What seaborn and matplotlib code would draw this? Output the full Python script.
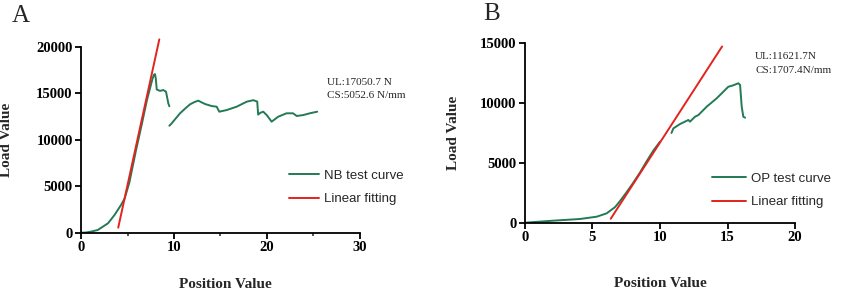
import pandas as pd
import seaborn as sns
import matplotlib.pyplot as plt
from matplotlib.ticker import MultipleLocator

# Panel A - NB test curve (two pieces, break after the first drop)
nb_x1 = [0, 0.5, 1.0, 1.8, 2.9, 3.6, 4.3, 4.7, 5.2, 5.9, 6.5, 7.1, 7.7, 7.85, 7.96, 8.05, 8.14, 8.5, 8.85, 9.14, 9.39, 9.5]
nb_y1 = [0, 20, 100, 290, 1010, 1900, 2980, 3700, 5400, 8800, 11500, 14300, 16600, 17000, 17050, 16500, 15400, 15250, 15340, 15160, 13900, 13600]
nb_x2 = [9.5, 9.75, 10.2, 10.65, 11.2, 11.72, 12.2, 12.61, 13.0, 13.33, 14.05, 14.59, 14.87, 15.67, 16.74, 17.82,
         18.53, 18.95, 19.05, 19.3, 19.6, 19.97, 20.5, 21.2, 22.1, 22.8, 23.2, 23.9, 24.6, 25.4]
nb_y2 = [11500, 11760, 12300, 12840, 13350, 13800, 14050, 14200, 14000, 13840, 13620, 13550, 13010, 13190, 13550, 14090,
         14250, 14100, 12700, 12900, 13010, 12650, 11940, 12470, 12840, 12840, 12550, 12650, 12840, 13010]
fit_a_x = [4.0, 8.42]
fit_a_y = [540, 20790]

# Panel B - OP test curve
op_x1 = [0, 2.1, 4.07, 5.31, 6.05, 6.67, 7.0, 7.5, 8.0, 8.5, 9.0, 9.5, 9.8, 10.0]
op_y1 = [0, 170, 310, 500, 780, 1300, 1750, 2500, 3300, 4150, 5100, 6000, 6450, 6750]
op_x2 = [10.85, 10.99, 11.48, 12.1, 12.22, 12.59, 12.84, 13.46, 14.2, 15.06, 15.43, 15.8, 15.93, 16.05, 16.17, 16.3]
op_y2 = [7480, 7860, 8220, 8560, 8420, 8830, 8970, 9670, 10370, 11330, 11450, 11620, 11480, 9670, 8830, 8750]
fit_b_x = [6.35, 14.6]
fit_b_y = [330, 14690]

GREEN = '#237a55'
RED = '#e3231d'
SERIF = 'Liberation Serif'
SANS = 'Liberation Sans'

sns.set_style('ticks')
plt.rcParams['font.family'] = [SERIF, 'DejaVu Serif']

fig = plt.figure(figsize=(8.44, 2.93), dpi=100)
ax_a = fig.add_axes([0.096, 0.2058, 0.3305, 0.6348])
ax_b = fig.add_axes([0.622, 0.2399, 0.320, 0.6144])


def draw_panel(ax, segs, fit_x, fit_y, curve_label, xmax, ymax):
    for i, (sx, sy) in enumerate(segs):
        df = pd.DataFrame({'x': sx, 'y': sy})
        sns.lineplot(data=df, x='x', y='y', ax=ax, sort=False, estimator=None,
                     color=GREEN, linewidth=1.4, label=curve_label if i == 0 else None)
    fit = pd.DataFrame({'x': fit_x, 'y': fit_y})
    sns.lineplot(data=fit, x='x', y='y', ax=ax, sort=False, estimator=None,
                 color=RED, linewidth=1.4, label='Linear fitting')
    ax.lines[-1].set_clip_on(False)
    ax.set_xlim(0, xmax)
    ax.set_ylim(0, ymax)
    sns.despine(ax=ax)
    for s in ['left', 'bottom']:
        ax.spines[s].set_linewidth(1.3)
        ax.spines[s].set_color('black')
    ax.tick_params(axis='both', which='major', length=4, width=1.3, labelsize=10.5, pad=2, colors='black')
    ax.tick_params(axis='both', which='minor', length=2.5, width=1.1)
    ax.set_xlabel('Position Value', fontsize=11, fontweight='bold')
    ax.set_ylabel('Load Value', fontsize=11, fontweight='bold')


draw_panel(ax_a, [(nb_x1, nb_y1), (nb_x2, nb_y2)], fit_a_x, fit_a_y, 'NB test curve', 30, 20000)
ax_a.xaxis.set_major_locator(MultipleLocator(10))
ax_a.xaxis.set_minor_locator(MultipleLocator(5))
ax_a.yaxis.set_major_locator(MultipleLocator(5000))

draw_panel(ax_b, [(op_x1, op_y1), (op_x2, op_y2)], fit_b_x, fit_b_y, 'OP test curve', 20, 15000)
ax_b.xaxis.set_major_locator(MultipleLocator(5))
ax_b.yaxis.set_major_locator(MultipleLocator(5000))

for ax in (ax_a, ax_b):
    for lab in ax.get_xticklabels() + ax.get_yticklabels():
        lab.set_fontweight('bold')

ax_a.xaxis.set_label_coords(0.516, -0.244)
ax_a.yaxis.set_label_coords(-0.244, 0.498)
ax_b.xaxis.set_label_coords(0.5, -0.30)
ax_b.yaxis.set_label_coords(-0.241, 0.50)

ax_a.legend(loc='center left', bbox_to_anchor=(0.722, 0.243), frameon=False,
            borderpad=0, handlelength=2.3, handletextpad=0.35, labelspacing=0.85,
            prop={'family': SANS, 'size': 9.5})
ax_b.legend(loc='center left', bbox_to_anchor=(0.667, 0.18), frameon=False,
            borderpad=0, handlelength=2.6, handletextpad=0.4, labelspacing=0.85,
            prop={'family': SANS, 'size': 9.5})

ax_a.text(0.882, 0.81, 'UL:17050.7 N', transform=ax_a.transAxes, va='center', ha='left', fontsize=8)
ax_a.text(0.882, 0.735, 'CS:5052.6 N/mm', transform=ax_a.transAxes, va='center', ha='left', fontsize=8)
ax_b.text(0.852, 0.926, 'UL:11621.7N', transform=ax_b.transAxes, va='center', ha='left', fontsize=8)
ax_b.text(0.852, 0.843, 'CS:1707.4N/mm', transform=ax_b.transAxes, va='center', ha='left', fontsize=8)

fig.text(12 / 844, 1 - 16 / 293, 'A', fontsize=18, va='center', ha='left')
fig.text(483 / 844, 1 - 14 / 293, 'B', fontsize=18, va='center', ha='left')

fig.savefig('out.png', dpi=100)
